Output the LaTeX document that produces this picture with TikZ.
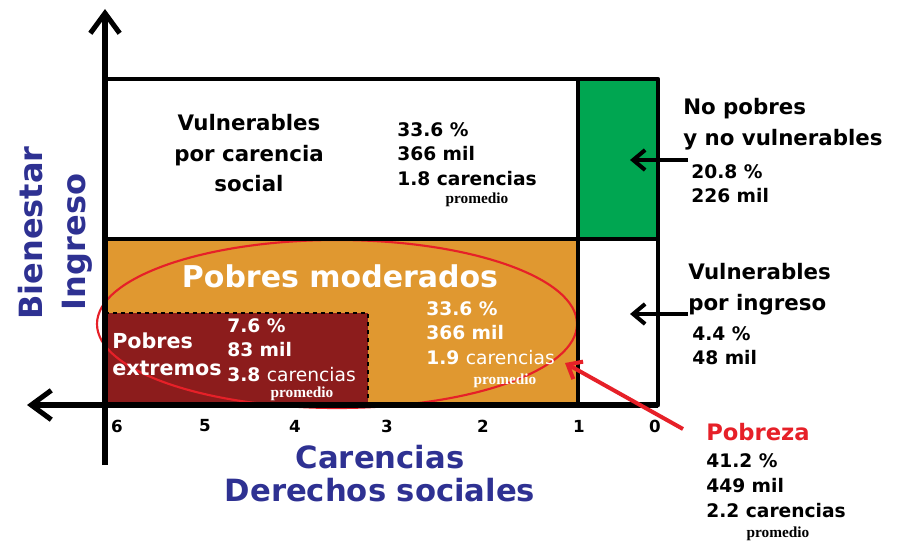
\documentclass[tikz,border=0pt]{standalone}
\usepackage{fontspec}
\setmainfont{DejaVu Sans}
\newfontfamily\serifb{Liberation Serif}
\usetikzlibrary{arrows.meta}
\definecolor{verde}{RGB}{0,166,81}
\definecolor{naranja}{RGB}{224,152,48}
\definecolor{vino}{RGB}{140,28,28}
\definecolor{azul}{RGB}{46,49,146}
\definecolor{rojo}{RGB}{230,32,40}

\begin{document}
\begin{tikzpicture}[
		x=0.75pt, y=-0.75pt,
		eje/.style={line width=3.8pt, -{Straight Barb[length=15pt,width=22pt]}},
		marco/.style={line width=3.4pt, line cap=round, line join=round},
		divisor/.style={line width=2.4pt},
		flecha/.style={line width=3pt, -{Straight Barb[length=9pt,width=15pt]}},
		titulo/.style={font=\fontsize{16}{23}\selectfont\bfseries, inner sep=0pt},
		dato/.style={font=\fontsize{14}{18.5}\selectfont\bfseries, align=left, anchor=north west, inner sep=0pt},
		prom/.style={font=\serifb\fontsize{11.5}{12}\selectfont\bfseries, anchor=base, inner sep=0pt},
		marca/.style={font=\fontsize{12.5}{13}\selectfont\bfseries, inner sep=0pt},
		eti/.style={font=\fontsize{24}{30}\selectfont\bfseries, text=azul, inner sep=0pt}
	]
	\useasboundingbox (0,0) rectangle (913,542);
	% regiones
	\fill[naranja] (105,239) rectangle (578,405);
	\fill[vino] (105,313) rectangle (368,405);
	\fill[verde] (578,79) rectangle (658,239);
	\draw[rojo, line width=1.6pt] (337,324) ellipse [x radius=180pt, y radius=63pt];
	\draw[dashed, line width=1pt] (105,313) -- (368,313) -- (368,405);
	% lineas
	\draw[divisor] (105,239) -- (658,239);
	\draw[divisor] (578,79) -- (578,405);
	\draw[marco] (105,79) -- (658,79) -- (658,405);
	\coordinate (origen) at (105,405);
	\draw[eje] (105,465) -- (105,9);
	\draw[eje] (658,405) -- (27,405);
	% textos
	\node[titulo, align=center, anchor=north] (vulcar) at (249,114) {Vulnerables\\por carencia\\social};
	\node[dato] (vulcardat) at (397,122) {33.6 \%\\366 mil\\1.8 carencias};
	\node[prom] (vulcarprom) at (477,203) {promedio};
	\node[titulo, align=left, anchor=north west] (nopob) at (683,98) {No pobres\\y no vulnerables};
	\node[dato] (nopobdat) at (691,164) {20.8 \%\\226 mil};
	\node[titulo, align=left, anchor=north west] (vuling) at (688,263) {Vulnerables\\por ingreso};
	\node[dato] (vulingdat) at (692,326) {4.4 \%\\48 mil};
	\node[font=\fontsize{22.5}{26}\selectfont\bfseries, text=white, anchor=north, inner sep=0pt] (pobmod) at (340,264) {Pobres moderados};
	\node[dato, text=white] (pobmoddat) at (426,301) {33.6 \%\\366 mil\\1.9 {\mdseries carencias}};
	\node[prom, text=white] (pobmodprom) at (505,384) {promedio};
	\node[titulo, font=\fontsize{15.5}{20}\selectfont\bfseries, align=left, anchor=north west, text=white] (pobext) at (112,333) {Pobres\\extremos};
	\node[dato, text=white] (pobextdat) at (227,318) {7.6 \%\\83 mil\\3.8 {\mdseries carencias}};
	\node[prom, text=white] (pobextprom) at (302,397) {promedio};
	\node[titulo, font=\fontsize{17}{20}\selectfont\bfseries, text=rojo, anchor=north west] (pobreza) at (706,423) {Pobreza};
	\node[dato, font=\fontsize{14}{19}\selectfont\bfseries] (pobrezadat) at (706,453) {41.2 \%\\449 mil\\2.2 carencias};
	\node[prom] (pobrezaprom) at (778,537) {promedio};
	% marcas del eje
	\foreach \n/\x in {6/117,5/205,4/295,3/387,2/483,1/579,0/655}
		\node[marca] (m\n) at (\x,426) {\n};
	\node[eti, font=\fontsize{23}{25}\selectfont\bfseries, align=center, anchor=north] (carencias) at (380,445) {Carencias\\Derechos sociales};
	\node[eti, rotate=90] (bienestar) at (31,233) {Bienestar};
	\node[eti, rotate=90] (ingreso) at (77,242) {Ingreso};
	% flechas
	\coordinate (nopobini) at (688,160);
	\coordinate (nopobfin) at (630,160);
	\coordinate (vulingini) at (688,314);
	\coordinate (vulingfin) at (630,314);
	\coordinate (pobrezaini) at (683,429);
	\coordinate (pobrezafin) at (565,363);
	\draw[flecha] (nopobini) -- (nopobfin);
	\draw[flecha] (vulingini) -- (vulingfin);
	\draw[flecha, rojo, line width=3pt] (pobrezaini) -- (pobrezafin);
\end{tikzpicture}
\end{document}
